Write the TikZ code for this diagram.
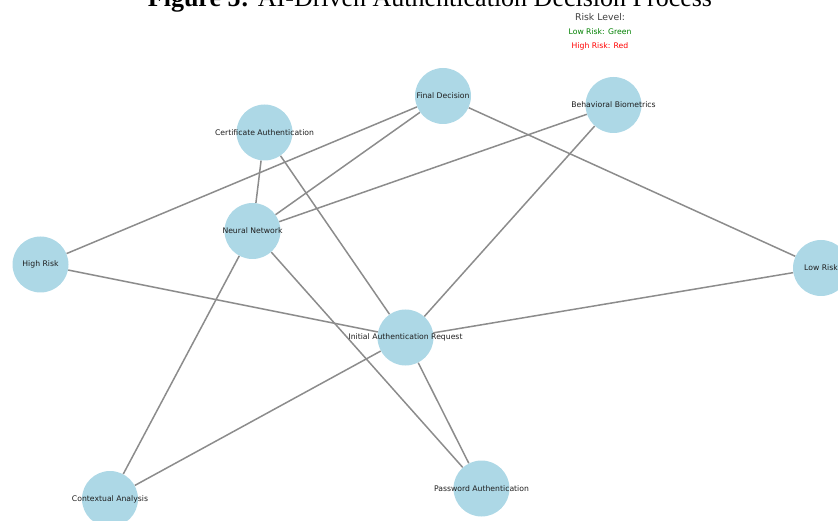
\documentclass[tikz,border=0pt]{standalone}
\usepackage{fontspec}
\setmainfont{Liberation Serif}
\newfontfamily\dejavu{DejaVu Sans}
\usetikzlibrary{backgrounds}
\definecolor{nodeblue}{RGB}{173,216,230}
\definecolor{edgegray}{RGB}{140,140,140}
\definecolor{lgreen}{RGB}{0,128,0}
\definecolor{lred}{RGB}{255,0,0}
\definecolor{darktxt}{RGB}{30,30,30}
\tikzset{
  vnode/.style={circle, fill=nodeblue, draw=none, minimum size=56pt, inner sep=0pt},
  vlabel/.style={font=\dejavu\fontsize{7.7}{8}\selectfont, text=darktxt, inner sep=0pt},
  edge/.style={draw=edgegray, line width=1.5pt},
  legendtxt/.style={font=\dejavu\fontsize{7.7}{8}\selectfont, inner sep=0pt, anchor=base},
}
\begin{document}
\begin{tikzpicture}[x=1pt,y=-1pt]
\useasboundingbox (0,0) rectangle (838,521);
\node[anchor=base, inner sep=0pt, font=\fontsize{26}{28}\selectfont] (title) at (430,6.5) {\textbf{Figure 5:} AI-Driven Authentication Decision Process};
\node[legendtxt, font=\dejavu\fontsize{9.3}{10}\selectfont, text=darktxt!85] (lg0) at (600,21) {Risk Level:};
\node[legendtxt, text=lgreen] (lg1) at (600,35) {Low Risk: Green};
\node[legendtxt, text=lred] (lg2) at (600,49) {High Risk: Red};

\node[vnode, label={[vlabel]center:Final Decision}] (fd) at (443,96) {};
\node[vnode, label={[vlabel]center:Certificate Authentication}] (ca) at (264.5,132.5) {};
\node[vnode, label={[vlabel]center:Behavioral Biometrics}] (bb) at (613.5,105) {};
\node[vnode, label={[vlabel]center:Neural Network}] (nn) at (252.5,231) {};
\node[vnode, label={[vlabel]center:High Risk}] (hr) at (40.5,264.5) {};
\node[vnode, label={[vlabel]center:Low Risk}] (lr) at (821,268) {};
\node[vnode, label={[vlabel]center:Initial Authentication Request}] (iar) at (405.5,337.5) {};
\node[vnode, label={[vlabel]center:Contextual Analysis}] (can) at (110,499) {};
\node[vnode, label={[vlabel]center:Password Authentication}] (pa) at (481.5,488.5) {};

\begin{pgfonlayer}{background}
\draw[edge] (hr) -- (fd);
\draw[edge] (hr) -- (iar);
\draw[edge] (ca) -- (nn);
\draw[edge] (ca) -- (iar);
\draw[edge] (fd) -- (nn);
\draw[edge] (fd) -- (lr);
\draw[edge] (bb) -- (nn);
\draw[edge] (bb) -- (iar);
\draw[edge] (nn) -- (can);
\draw[edge] (nn) -- (pa);
\draw[edge] (iar) -- (lr);
\draw[edge] (iar) -- (can);
\draw[edge] (iar) -- (pa);
\end{pgfonlayer}
\end{tikzpicture}
\end{document}
